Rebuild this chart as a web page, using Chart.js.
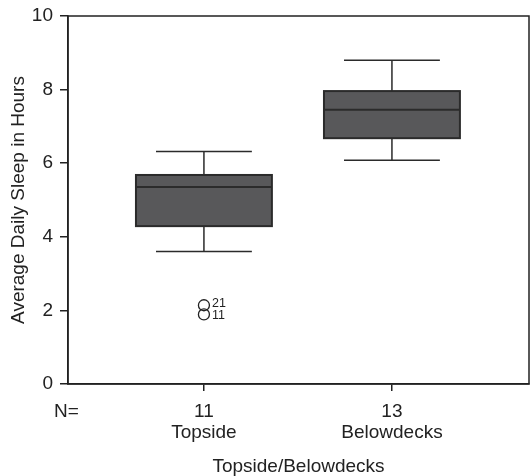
<!DOCTYPE html>
<html>
<head>
<meta charset="utf-8">
<script src="https://cdn.jsdelivr.net/npm/chart.js@4"></script>
<style>
  body { margin: 0; background: #fff; }
  #wrap { width: 532px; height: 476px; }
</style>
</head>
<body>
<div id="wrap"><canvas id="sleepChart" width="532" height="476"></canvas></div>
<script>
// Box plot summary
const groups = ['Topside', 'Belowdecks'];
const groupPos = [1, 2];
const counts = [11, 13];
const whiskerLow = [3.6, 6.08];
const q1 = [4.29, 6.68];
const medians = [5.35, 7.45];
const q3 = [5.68, 7.96];
const whiskerHigh = [6.32, 8.8];

// Outliers (case numbers shown beside the circles)
const outlierGroup = [0, 0];
const outlierValues = [2.14, 1.89];
const outlierIds = ['21', '11'];

const yTicks = [0, 2, 4, 6, 8, 10];

const BOX_WIDTH = 0.723;   // in x-axis units
const CAP_WIDTH = 0.51;
const TEXT = '#222';
const FONT = 'Liberation Sans, Arial, sans-serif';

const boxPlugin = {
    id: 'boxes',
    beforeDatasetsDraw(chart) {
        const { ctx, scales: { x, y } } = chart;
        ctx.save();
        groups.forEach((g, i) => {
            const cx = x.getPixelForValue(groupPos[i]);
            const bl = x.getPixelForValue(groupPos[i] - BOX_WIDTH / 2);
            const br = x.getPixelForValue(groupPos[i] + BOX_WIDTH / 2);
            const cl = x.getPixelForValue(groupPos[i] - CAP_WIDTH / 2);
            const cr = x.getPixelForValue(groupPos[i] + CAP_WIDTH / 2);
            const yTop = y.getPixelForValue(q3[i]);
            const yBot = y.getPixelForValue(q1[i]);
            const yMed = y.getPixelForValue(medians[i]);
            const yHi = y.getPixelForValue(whiskerHigh[i]);
            const yLo = y.getPixelForValue(whiskerLow[i]);

            ctx.strokeStyle = '#2b2b2b';
            ctx.lineWidth = 1.5;
            // whiskers
            ctx.beginPath();
            ctx.moveTo(cx, yHi); ctx.lineTo(cx, yTop);
            ctx.moveTo(cx, yBot); ctx.lineTo(cx, yLo);
            ctx.moveTo(cl, yHi); ctx.lineTo(cr, yHi);
            ctx.moveTo(cl, yLo); ctx.lineTo(cr, yLo);
            ctx.stroke();

            // box
            ctx.fillStyle = '#58585a';
            ctx.fillRect(bl, yTop, br - bl, yBot - yTop);
            ctx.lineWidth = 2;
            ctx.strokeRect(bl, yTop, br - bl, yBot - yTop);

            // median
            ctx.beginPath();
            ctx.moveTo(bl, yMed); ctx.lineTo(br, yMed);
            ctx.stroke();
        });
        ctx.restore();
    },
    afterDatasetsDraw(chart) {
        const { ctx, chartArea, scales: { x, y } } = chart;
        ctx.save();
        // frame
        ctx.strokeStyle = '#222';
        ctx.lineWidth = 1.5;
        ctx.strokeRect(chartArea.left, chartArea.top, chartArea.right - chartArea.left, chartArea.bottom - chartArea.top);

        // outlier ids
        ctx.fillStyle = TEXT;
        ctx.font = '12.5px ' + FONT;
        ctx.textAlign = 'left';
        ctx.textBaseline = 'alphabetic';
        const seen = {};
        outlierValues.forEach((v, k) => {
            const gi = outlierGroup[k];
            const n = seen[gi] || 0;
            seen[gi] = n + 1;
            const px = x.getPixelForValue(groupPos[gi]);
            const py = y.getPixelForValue(v);
            ctx.fillText(outlierIds[k], px + 8, py + (n === 0 ? 2 : 5));
        });

        // "N=" row label
        ctx.font = '19px ' + FONT;
        ctx.textAlign = 'center';
        ctx.textBaseline = 'middle';
        ctx.fillText('N=', chartArea.left - 1.5, 412);
        ctx.restore();
    }
};

new Chart(document.getElementById('sleepChart'), {
    type: 'scatter',
    data: {
        datasets: [{
            data: outlierValues.map((v, k) => ({ x: groupPos[outlierGroup[k]], y: v })),
            pointStyle: 'circle',
            pointRadius: 5.5,
            pointBackgroundColor: 'rgba(0,0,0,0)',
            pointBorderColor: '#222',
            pointBorderWidth: 1.3
        }]
    },
    options: {
        responsive: false,
        devicePixelRatio: 1,
        animation: false,
        layout: { autoPadding: false, padding: { top: 16, right: 3, left: 0, bottom: 0 } },
        plugins: { legend: { display: false }, tooltip: { enabled: false } },
        scales: {
            x: {
                type: 'linear',
                min: 0.277,
                max: 2.729,
                afterBuildTicks: s => { s.ticks = groupPos.map(v => ({ value: v })); },
                afterFit: s => { s.height = 92; s.paddingLeft = 0; s.paddingRight = 0; },
                grid: { drawOnChartArea: false, drawTicks: true, tickLength: 7, color: '#222', lineWidth: 1.5 },
                border: { display: true, color: '#222', width: 1.5 },
                ticks: {
                    color: TEXT,
                    padding: 10.5,
                    maxRotation: 0,
                    font: { family: FONT, size: 19, lineHeight: 1.105 },
                    callback: v => {
                        const i = groupPos.indexOf(v);
                        return i < 0 ? '' : [String(counts[i]), groups[i]];
                    }
                },
                title: {
                    display: true,
                    text: 'Topside/Belowdecks',
                    color: TEXT,
                    font: { family: FONT, size: 19, lineHeight: 1 },
                    padding: { top: 0, bottom: 0 }
                }
            },
            y: {
                min: 0,
                max: 10,
                afterBuildTicks: s => { s.ticks = yTicks.map(v => ({ value: v })); },
                afterFit: s => { s.width = 68; s.paddingTop = 0; s.paddingBottom = 0; },
                grid: { drawOnChartArea: false, drawTicks: true, tickLength: 8, color: '#222', lineWidth: 1.5 },
                border: { display: true, color: '#222', width: 1.5 },
                ticks: {
                    color: TEXT,
                    padding: 7,
                    font: { family: FONT, size: 19 }
                },
                title: {
                    display: true,
                    text: 'Average Daily Sleep in Hours',
                    color: TEXT,
                    font: { family: FONT, size: 19, lineHeight: 1 },
                    padding: { top: 9.5, bottom: 0 }
                }
            }
        }
    },
    plugins: [boxPlugin]
});
</script>
</body>
</html>
